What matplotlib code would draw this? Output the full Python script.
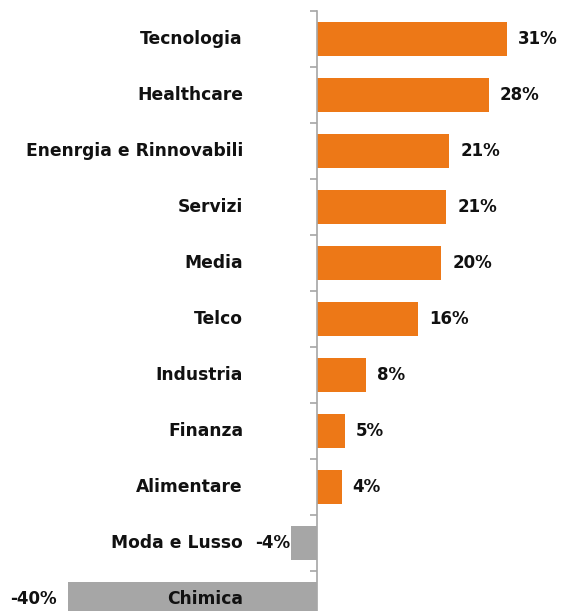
import matplotlib
matplotlib.use("Agg")
import matplotlib.pyplot as plt
import numpy as np

categories = ["Tecnologia", "Healthcare", "Enenrgia e Rinnovabili", "Servizi", "Media",
              "Telco", "Industria", "Finanza", "Alimentare", "Moda e Lusso", "Chimica"]
values = [30.7, 27.8, 21.4, 20.9, 20.1, 16.3, 7.9, 4.5, 4.0, -4.2, -40.3]
value_labels = ["31%", "28%", "21%", "21%", "20%", "16%", "8%", "5%", "4%", "-4%", "-40%"]

ORANGE = "#ED7817"
GRAY = "#A6A6A6"
plt.rcParams['font.family'] = ['DejaVu Sans']

W, H = 562, 611
fig = plt.figure(figsize=(W / 100, H / 100), dpi=100)
top_px, bottom_px = 11, 627
ax = fig.add_axes([0, (H - bottom_px) / H, 1, (bottom_px - top_px) / H])

ppu = 6.18
x0 = 317
ax.set_xlim(-x0 / ppu, (W - x0) / ppu)
n = len(categories)
ax.set_ylim(n - 0.5, -0.5)

y = np.arange(n)
colors = [ORANGE if v >= 0 else GRAY for v in values]
ax.barh(y, values, height=0.59, color=colors, zorder=2)

for yi, v, lab in zip(y, values, value_labels):
    if v >= 0:
        ax.text(v + 11 / ppu, yi, lab, ha="left", va="center", fontsize=12, fontweight="bold", color="#111111")
    else:
        gap = 1 if v > -20 else 11
        ax.text(v - gap / ppu, yi, lab, ha="right", va="center", fontsize=12, fontweight="bold", color="#111111")

for yi, c in zip(y, categories):
    ax.text(-74 / ppu, yi, c, ha="right", va="center", fontsize=12.3, fontweight="bold", color="#111111", zorder=3)

for s in ["top", "right", "bottom"]:
    ax.spines[s].set_visible(False)
ax.spines["left"].set_position(("data", 0))
ax.spines["left"].set_color("#A6A6A6")
ax.spines["left"].set_linewidth(1.2)
ax.spines["left"].set_zorder(3)
ax.set_xticks([])
ax.set_yticks(np.arange(n + 1) - 0.5)
ax.set_yticklabels([])
ax.tick_params(axis="y", length=5, color="#A6A6A6", width=1.2)
ax.patch.set_visible(False)

fig.savefig("out.png", dpi=100)
